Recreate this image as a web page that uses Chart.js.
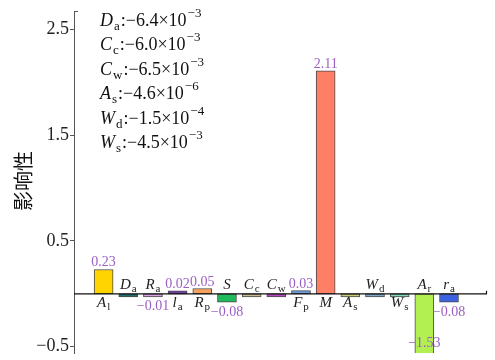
<!DOCTYPE html>
<html>
<head>
<meta charset="utf-8">
<script src="https://cdn.jsdelivr.net/npm/chart.js@4"></script>
<style>
  html, body { margin: 0; padding: 0; background: #fff; }
  #wrap { width: 495px; height: 360px; }
</style>
</head>
<body>
<div id="wrap"><canvas id="c" width="495" height="360"></canvas></div>
<script>
// Parameters: [symbol, subscript]
const categories = [
  ['A', 'l'], ['D', 'a'], ['R', 'a'], ['l', 'a'], ['R', 'p'], ['S', ''],
  ['C', 'c'], ['C', 'w'], ['F', 'p'], ['M', ''], ['A', 's'], ['W', 'd'],
  ['W', 's'], ['A', 'r'], ['r', 'a']
];
// Influence of each parameter
const values = [
  0.23, -0.0064, -0.01, 0.02, 0.05, -0.08,
  -0.0060, -0.0065, 0.03, 2.11, -0.0000046, -0.00015,
  -0.0045, -1.53, -0.08
];
const barColors = [
  '#ffd400', '#1d6e6e', '#d9a3ea', '#7a3ca8', '#f7a15c', '#1fba5c',
  '#c9b98f', '#c145c9', '#6a9ce2', '#ff7f66', '#c9c97a', '#7fa8c8',
  '#7fd8b8', '#b2f052', '#3c62e2'
];
const yTicks = [-0.5, 0.5, 1.5, 2.5];
// Parameters too small to label on the bar; listed in the note instead
const notedItems = [1, 6, 7, 10, 11, 12];
// Parameters whose name sits under the axis regardless of sign
const nameUnderAxis = [10, 12];

const SERIF = '"Liberation Serif", "Times New Roman", "DejaVu Serif", serif';
const LABEL_PURPLE = '#9b5fc4';

function drawSymbol(ctx, x, y, sym, size, align) {
  const mainFont = 'italic ' + size + 'px ' + SERIF;
  const subSize = Math.round(size * 0.7);
  const subFont = subSize + 'px ' + SERIF;
  ctx.font = mainFont;
  const w1 = ctx.measureText(sym[0]).width;
  ctx.font = subFont;
  const w2 = sym[1] ? ctx.measureText(sym[1]).width + 1 : 0;
  const total = w1 + w2;
  const sx = align === 'center' ? x - total / 2 : x;
  ctx.textAlign = 'left';
  ctx.textBaseline = 'alphabetic';
  ctx.font = mainFont;
  ctx.fillText(sym[0], sx, y);
  if (sym[1]) {
    ctx.font = subFont;
    ctx.fillText(sym[1], sx + w1 + 1, y + Math.round(size * 0.22));
  }
  return sx + total;
}

function fmt(v) {
  return v.toFixed(2).replace('-', '\u2212');
}

const annotate = {
  id: 'annotate',
  afterDatasetsDraw(chart) {
    const ctx = chart.ctx;
    const area = chart.chartArea;
    const ys = chart.scales.y;
    const xs = chart.scales.x;
    const y0 = ys.getPixelForValue(0);
    ctx.save();

    // zero line with end tick, and top cap of the value axis
    ctx.strokeStyle = '#111';
    ctx.lineWidth = 1.2;
    ctx.beginPath();
    ctx.moveTo(area.left, y0);
    ctx.lineTo(area.right, y0);
    ctx.moveTo(area.right - 0.5, y0);
    ctx.lineTo(area.right - 0.5, y0 - 3);
    ctx.stroke();
    ctx.strokeStyle = '#555';
    ctx.lineWidth = 1;
    ctx.beginPath();
    ctx.moveTo(area.left, area.top + 0.5);
    ctx.lineTo(area.left + 4, area.top + 0.5);
    ctx.stroke();

    const meta = chart.getDatasetMeta(0);
    values.forEach((v, i) => {
      const el = meta.data[i];
      const x = xs.getPixelForValue(i + 1);
      const below = v > 0 || nameUnderAxis.includes(i);
      ctx.fillStyle = '#222';
      drawSymbol(ctx, x, below ? y0 + 13 : y0 - 5, categories[i], 15, 'center');
      if (notedItems.includes(i)) return;
      ctx.fillStyle = LABEL_PURPLE;
      ctx.font = '14px ' + SERIF;
      ctx.textAlign = 'center';
      if (v > 0) {
        ctx.textBaseline = 'alphabetic';
        ctx.fillText(fmt(v), x, el.y - 3);
      } else {
        const end = Math.min(el.y, area.bottom);
        ctx.textBaseline = 'top';
        let ty = end + 3;
        if (ty + 13 > area.bottom) ty = end - 17;
        ctx.fillText(fmt(v), x, ty);
      }
    });

    // note block for the very small values
    let ny = 26;
    notedItems.forEach(i => {
      const v = values[i];
      const e = Math.floor(Math.log10(Math.abs(v)));
      const m = (v / Math.pow(10, e)).toFixed(1).replace('-', '\u2212');
      ctx.fillStyle = '#111';
      let cx = drawSymbol(ctx, 100, ny, categories[i], 18, 'left');
      ctx.font = '18px ' + SERIF;
      ctx.textAlign = 'left';
      ctx.textBaseline = 'alphabetic';
      const body = ':' + m + '\u00d710';
      ctx.fillText(body, cx + 1, ny);
      cx += 1 + ctx.measureText(body).width;
      ctx.font = '13px ' + SERIF;
      ctx.fillText('\u2212' + Math.abs(e), cx + 1, ny - 9);
      ny += 24.4;
    });

    // value-axis title
    ctx.translate(23, 181);
    ctx.rotate(-Math.PI / 2);
    ctx.fillStyle = '#111';
    ctx.font = '20px "Noto Sans CJK SC"';
    ctx.textAlign = 'center';
    ctx.textBaseline = 'middle';
    ctx.fillText('影响性', 0, 0);
    ctx.restore();
  }
};

function build() {
  new Chart(document.getElementById('c'), {
    type: 'bar',
    data: {
      datasets: [{
        data: values.map((v, i) => ({ x: i + 1, y: v })),
        backgroundColor: barColors,
        borderColor: '#4a4a4a',
        borderWidth: 1,
        borderSkipped: false,
        barThickness: 19,
        minBarLength: 3
      }]
    },
    options: {
      responsive: false,
      animation: false,
      devicePixelRatio: 1,
      layout: { padding: { left: 0, top: 11, right: 8, bottom: 7 } },
      plugins: { legend: { display: false }, tooltip: { enabled: false } },
      scales: {
        x: {
          type: 'linear',
          offset: false,
          min: -0.2,
          max: 16.54,
          display: false
        },
        y: {
          min: -0.56,
          max: 2.675,
          afterBuildTicks(scale) {
            scale.ticks = yTicks.map(v => ({ value: v }));
          },
          afterFit(scale) {
            scale.width = 74;
            scale.paddingTop = 0;
            scale.paddingBottom = 0;
          },
          grid: { display: true, drawOnChartArea: false, drawTicks: true, tickLength: 4, color: '#555' },
          border: { display: true, color: '#555', width: 1 },
          ticks: {
            color: '#222',
            padding: 1,
            font: { family: SERIF, size: 18 },
            callback: v => String(v).replace('-', '\u2212')
          }
        }
      }
    },
    plugins: [annotate]
  });
}

Promise.all([
  document.fonts.load('15px "Liberation Serif"'),
  document.fonts.load('italic 15px "Liberation Serif"'),
  document.fonts.load('20px "Noto Sans CJK SC"', '影响性')
]).catch(() => {}).then(build);
</script>
</body>
</html>
